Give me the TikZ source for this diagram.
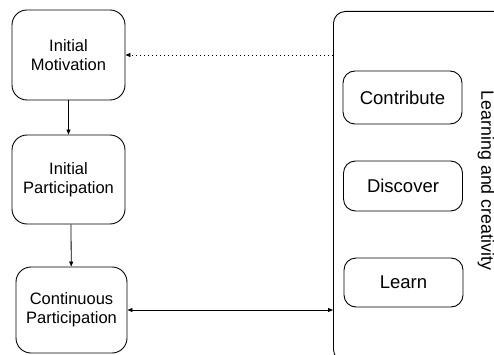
\documentclass[tikz,border=0pt]{standalone}
\usepackage{fontspec}
\setmainfont{Liberation Sans}
\usetikzlibrary{arrows.meta}
\begin{document}
\begin{tikzpicture}[x=1pt,y=-1pt,
  box/.style={draw,line width=0.9pt,rounded corners=15pt,align=center,inner sep=0pt,
    font=\fontsize{16.5}{19}\selectfont},
  act/.style={draw,line width=0.9pt,rounded corners=12pt,align=center,inner sep=0pt,
    minimum width=119pt,font=\fontsize{18.5}{21}\selectfont},
  conn/.style={line width=0.8pt,-{Triangle[length=5pt,width=4pt]}},
]
\useasboundingbox (0,0) rectangle (494,355);
\clip (0,0) rectangle (494,355);
\node[box,minimum width=113pt,minimum height=90pt] (mot) at (68.5,55) {Initial\\Motivation};
\node[box,minimum width=113pt,minimum height=89pt] (ip) at (68.5,179.5) {Initial\\Participation};
\node[box,minimum width=111pt,minimum height=86pt] (cp) at (71.5,310) {Continuous\\Participation};
\node[draw,line width=0.9pt,rounded corners=12pt,minimum width=172pt,minimum height=350pt,
  inner sep=0pt,anchor=north west] (lc) at (333,11) {};
\node[act,minimum height=53pt] (contrib) at (402.5,97.5) {Contribute};
\node[act,minimum height=50pt] (disc) at (403,186) {Discover};
\node[act,minimum height=49pt] (learn) at (403.5,282.5) {Learn};
\node[rotate=-90,inner sep=0pt,font=\fontsize{17.8}{20}\selectfont] (lbl) at (486,180.5) {Learning and creativity};
\draw[conn] (mot) -- (ip);
\draw[conn] (ip.south -| 71,0) -- (cp);
\draw[conn,dash pattern=on 1pt off 3pt] (lc.west |- mot.east) -- (mot.east);
\draw[conn,{Triangle[length=5pt,width=4pt]}-{Triangle[length=5pt,width=4pt]}] (cp.east) -- (lc.west |- cp.east);
\end{tikzpicture}
\end{document}
